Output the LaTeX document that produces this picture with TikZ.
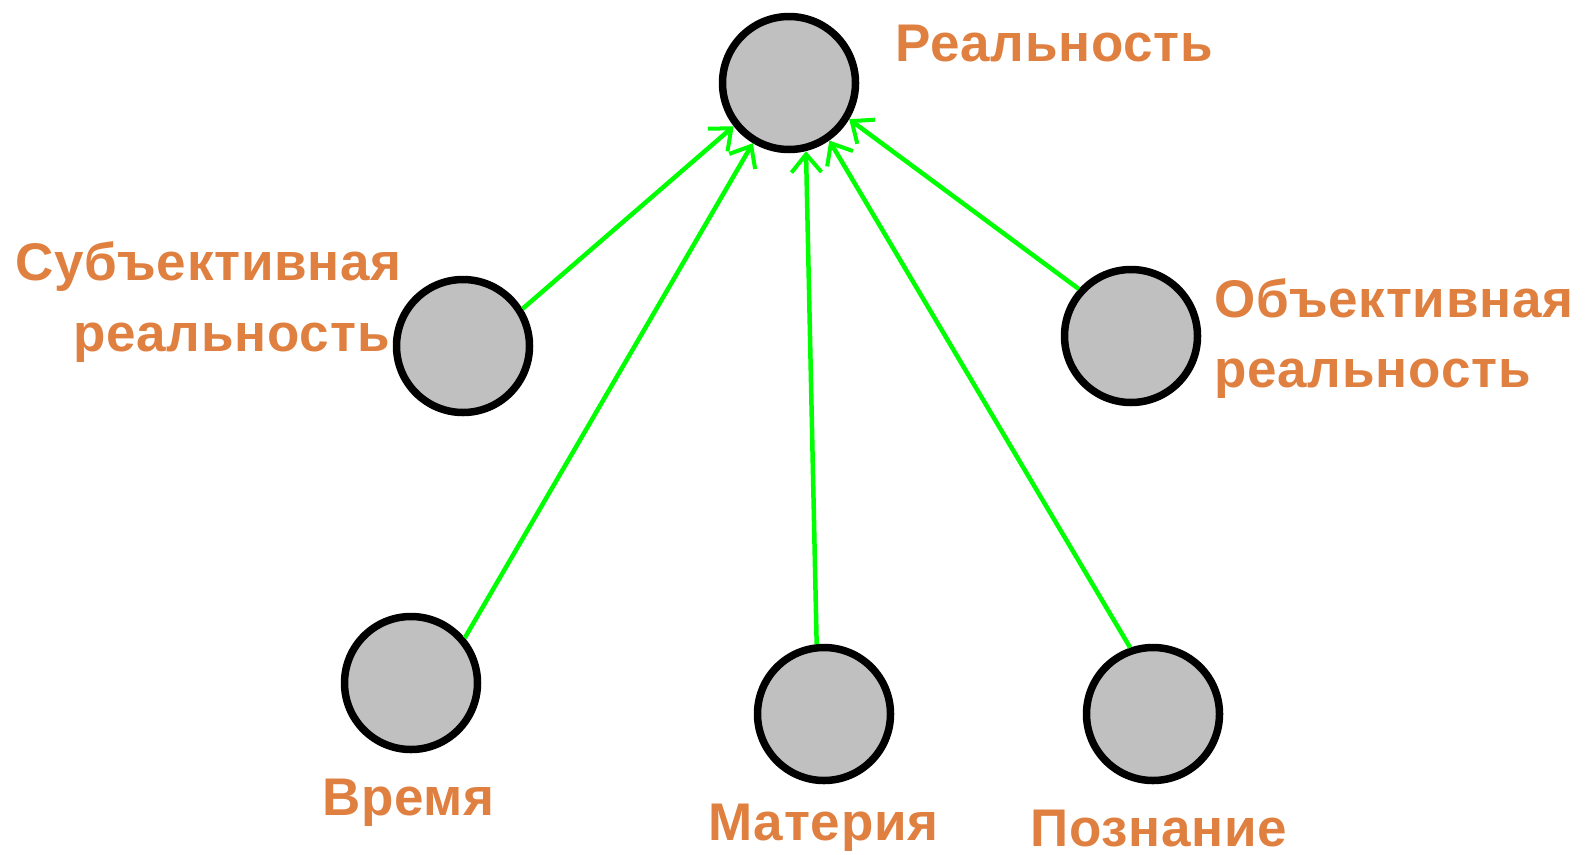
\documentclass[tikz,border=0pt]{standalone}
\usepackage{fontspec}
\usetikzlibrary{arrows.meta}
\newfontfamily\lblfont[LetterSpace=1.5]{Liberation Sans}
\definecolor{gfill}{RGB}{192,192,192}
\definecolor{lblorange}{RGB}{224,128,64}
\definecolor{lgreen}{RGB}{0,255,0}
\tikzset{
  dot/.style={circle, draw=black, line width=7.5pt, fill=gfill, minimum size=133pt, inner sep=0pt},
  lbl/.style={text=lblorange, font=\lblfont\bfseries\fontsize{53}{60}\selectfont, inner sep=0pt, anchor=base west},
  link/.style={draw=lgreen, line width=4.5pt, -{Straight Barb[length=18pt,width=30pt,line width=4pt]}}
}
\begin{document}
\begin{tikzpicture}[x=1pt,y=-1pt]
\useasboundingbox (0,0) rectangle (1586,854);
\node[dot] (top) at (789,83) {};
\node[dot] (sub) at (463,346) {};
\node[dot] (obj) at (1131,336) {};
\node[dot] (time) at (411,683) {};
\node[dot] (mat) at (824,714) {};
\node[dot] (cog) at (1153,714) {};
\draw[link] (sub.32) -- (top.218);
\draw[link] (time.40) -- (top.239);
\draw[link] (mat.96) -- (top.284);
\draw[link] (cog.109) -- (top.305);
\draw[link] (obj.138) -- (top.329);
\node[lbl] (ltop) at (895,61) {Реальность};
\node[lbl] (lsub1) at (15,280) {Субъективная};
\node[lbl] (lsub2) at (73,351) {реальность};
\node[lbl] (lobj1) at (1214,317) {Объективная};
\node[lbl] (lobj2) at (1214,387) {реальность};
\node[lbl] (ltime) at (322,815) {Время};
\node[lbl] (lmat) at (708,840) {Материя};
\node[lbl] (lcog) at (1030,846) {Познание};
\end{tikzpicture}
\end{document}
